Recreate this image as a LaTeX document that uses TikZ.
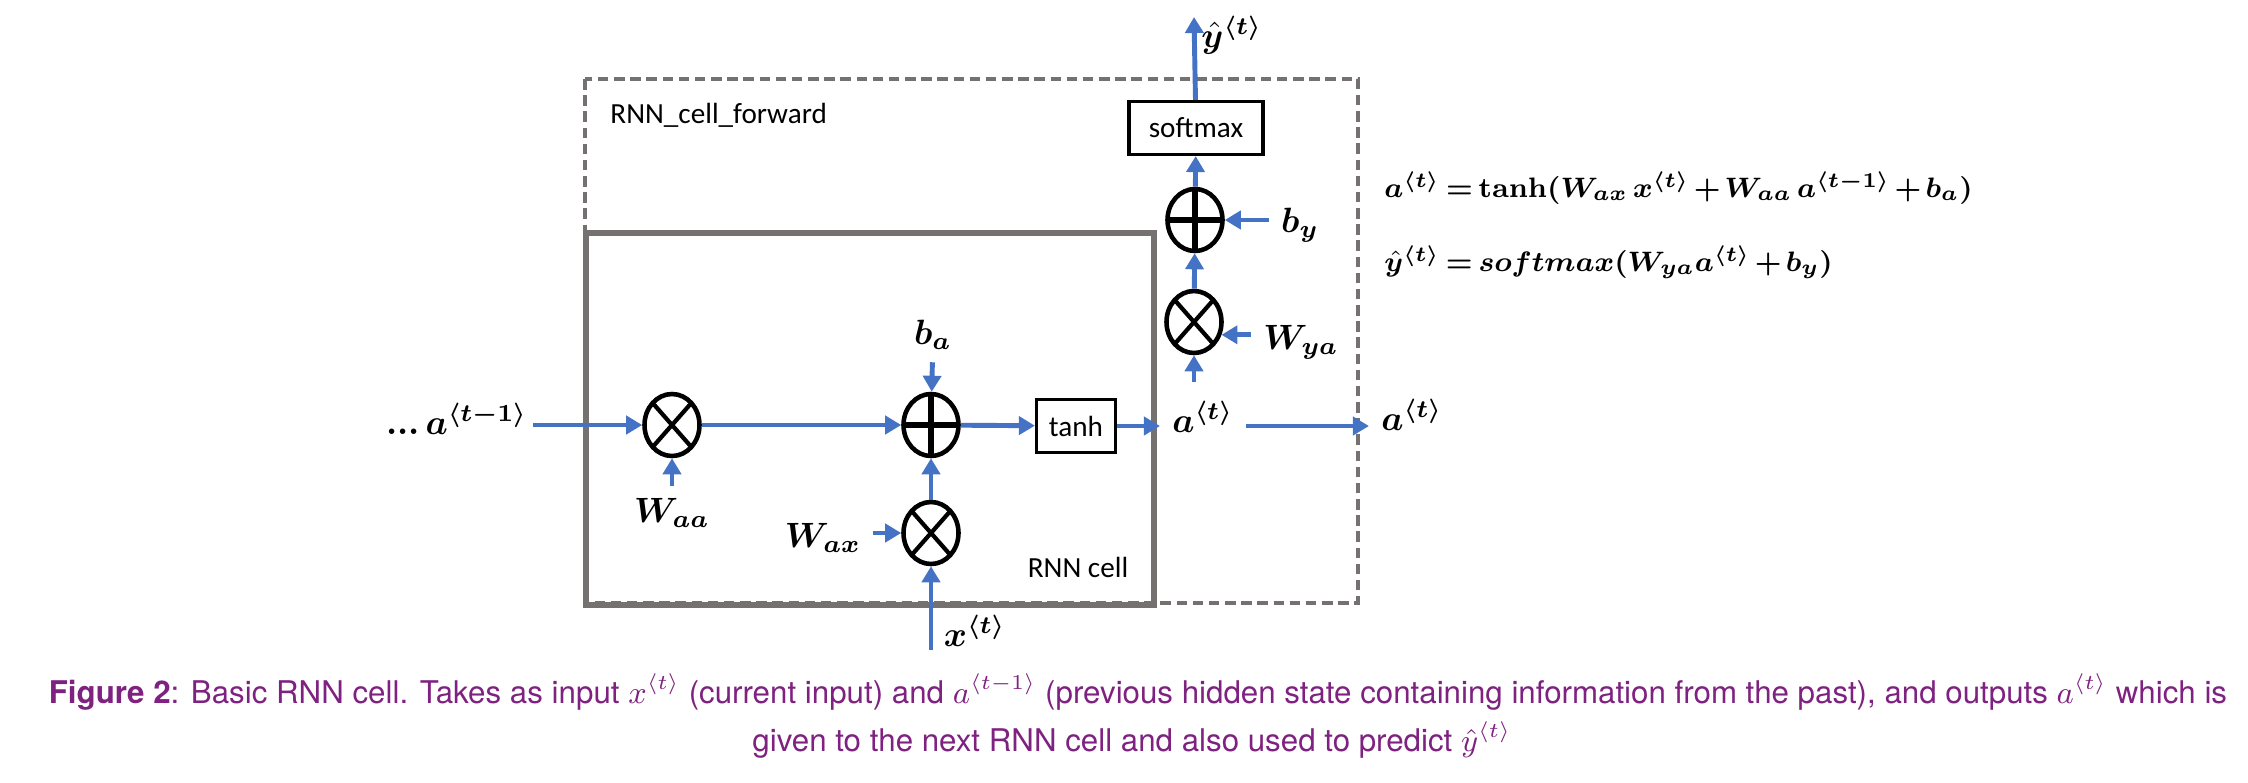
\documentclass[tikz,border=0pt]{standalone}
\usepackage{fontspec}
\usepackage{amsmath,bm}
\setsansfont{Carlito}
\newfontfamily\capfont{TeX Gyre Heros}
\usetikzlibrary{arrows.meta, positioning, shapes.geometric}
\definecolor{cblue}{HTML}{4472C4}
\definecolor{cgrey}{HTML}{767171}
\definecolor{cpurple}{HTML}{7E2180}
\newcommand{\tighteq}{\thickmuskip=3.5mu\medmuskip=2.5mu}
\tikzset{
  every picture/.style={font=\sffamily},
  flow/.style={draw=cblue, line width=1.4pt, -{Triangle[length=1.6mm, width=1.8mm]}},
  opbox/.style={draw, line width=0.9pt, minimum width=#1, minimum height=0.53cm, inner sep=0pt, font=\fontsize{8.3}{10}\sffamily},
  mulop/.style={ellipse, draw, line width=1.3pt, minimum width=0.55cm, minimum height=0.62cm, inner sep=0pt,
    path picture={\draw[line width=1.2pt] (path picture bounding box.center) ++(-0.22,-0.25) -- ++(0.44,0.5)
      (path picture bounding box.center) ++(-0.22,0.25) -- ++(0.44,-0.5);}},
  addop/.style={ellipse, draw, line width=1.3pt, minimum width=0.55cm, minimum height=0.62cm, inner sep=0pt,
    path picture={\draw[line width=1.6pt] (path picture bounding box.center) ++(-0.3,0) -- ++(0.6,0)
      (path picture bounding box.center) ++(0,-0.35) -- ++(0,0.7);}},
  lbl/.style={font=\fontsize{10}{12}\selectfont},
  eqn/.style={anchor=west, font=\fontsize{8}{10}\selectfont},
  boxlbl/.style={font=\fontsize{8.3}{10}\sffamily},
  captext/.style={font=\capfont\fontsize{8.9}{10}\selectfont, text=cpurple, inner sep=0pt},
}
\begin{document}
\begin{tikzpicture}
  \useasboundingbox (0,0) rectangle (22.48,-7.82);
  % cell outlines
  \draw[cgrey, line width=1.4pt, dash pattern=on 3pt off 1.6pt] (5.85,-0.79) rectangle (13.58,-6.03);
  \draw[cgrey, line width=1.5pt] (5.86,-2.33) rectangle (11.54,-6.05);
  \node[boxlbl, anchor=west] (fwdlbl) at (5.98,-1.15) {RNN\_cell\_forward};
  \node[boxlbl] (celllbl) at (10.78,-5.67) {RNN cell};
  % operations
  \node[mulop] (mulaa) at (6.72,-4.25) {};
  \node[addop] (adda) at (9.31,-4.25) {};
  \node[mulop] (mulax) at (9.31,-5.33) {};
  \node[opbox=0.79cm] (tanh) at (10.76,-4.26) {tanh};
  \node[lbl] (at) at (12.03,-4.17) {$\bm{a^{\langle t\rangle}}$};
  \node[mulop] (mulya) at (11.94,-3.22) {};
  \node[addop] (addy) at (11.95,-2.20) {};
  \node[opbox=1.34cm] (softmax) at (11.96,-1.28) {softmax};
  % inputs and outputs
  \node[lbl, anchor=east] (aprev) at (5.40,-4.19) {\textbf{...}\,$\bm{a^{\langle t-1\rangle}}$};
  \node[lbl] (waa) at (6.72,-5.13) {$\bm{W_{aa}}$};
  \node[lbl] (wax) at (8.23,-5.38) {$\bm{W_{ax}}$};
  \node[lbl] (ba) at (9.33,-3.35) {$\bm{b_a}$};
  \node[lbl] (xt) at (9.75,-6.31) {$\bm{x^{\langle t\rangle}}$};
  \node[lbl] (wya) at (13.01,-3.42) {$\bm{W_{ya}}$};
  \node[lbl] (by) at (13.00,-2.25) {$\bm{b_y}$};
  \node[lbl] (yhat) at (12.32,-0.35) {$\bm{\hat y^{\langle t\rangle}}$};
  \node[lbl] (anext) at (14.12,-4.15) {$\bm{a^{\langle t\rangle}}$};
  \coordinate (ain) at (5.33,-4.25);
  \coordinate (xin) at (9.31,-6.50);
  \coordinate (yout) at (11.94,-0.17);
  % connectors
  \draw[flow] (ain) -- (mulaa);
  \draw[flow] (mulaa) -- (adda);
  \draw[flow] (waa) -- (mulaa);
  \draw[flow] (ba) -- (adda);
  \draw[flow] (wax.east |- mulax) -- (mulax);
  \draw[flow] (xin) -- (mulax);
  \draw[flow] (mulax) -- (adda);
  \draw[flow] (adda) -- (tanh);
  \draw[flow] (tanh.east) -- (tanh.east -| at.west);
  \draw[flow] (at.east |- tanh.east) -- (anext.west |- tanh.east);
  \draw[flow] ([yshift=2pt]at.north -| mulya) -- (mulya);
  \draw[flow] (wya.west |- mulya.-25) -- (mulya.-25);
  \draw[flow] (mulya) -- (addy);
  \draw[flow] (by.west |- addy) -- (addy);
  \draw[flow] (addy) -- (softmax);
  \draw[flow] (softmax) -- (yout);
  % equations
  \node[eqn] (eqa) at (13.72,-1.88) {\tighteq$\bm{a^{\langle t\rangle} = \mathbf{tanh}(W_{ax}\,x^{\langle t\rangle} + W_{aa}\,a^{\langle t-1\rangle} + b_a)}$};
  \node[eqn] (eqy) at (13.72,-2.62) {\tighteq$\bm{\hat y^{\langle t\rangle} = softmax(W_{ya}a^{\langle t\rangle} + b_y)}$};
  % caption
  \node[captext] (capa) at (11.38,-6.92) {\textbf{Figure 2}: Basic RNN cell. Takes as input $x^{\langle t \rangle}$ (current input) and $a^{\langle t-1 \rangle}$ (previous hidden state containing information from the past), and outputs $a^{\langle t \rangle}$ which is};
  \node[captext] (capb) at (11.32,-7.40) {given to the next RNN cell and also used to predict $\hat{y}^{\langle t \rangle}$};
\end{tikzpicture}
\end{document}
